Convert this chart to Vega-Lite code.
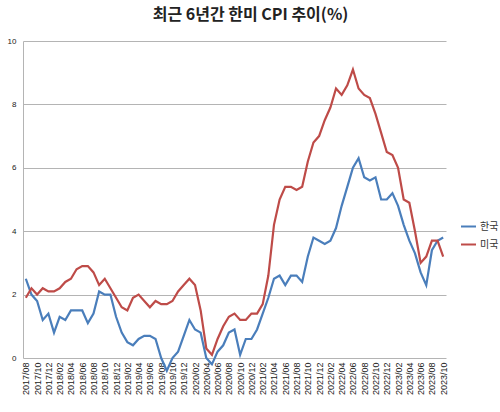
{
 "$schema": "https://vega.github.io/schema/vega-lite/v6.json",
 "width": 423,
 "height": 317,
 "autosize": {"type": "none"},
 "padding": {"left": 23, "top": 41, "right": 54, "bottom": 54},
 "background": "white",
 "title": {"text": "최근 6년간 한미 CPI 추이(%)", "font": "Noto Sans CJK KR", "fontSize": 16, "fontWeight": "bold", "color": "#222222", "anchor": "middle", "dx": 16, "offset": 14},
 "data": {"values": [
  {"m":"2017/08","한국":2.5,"미국":1.9},{"m":"2017/09","한국":2.0,"미국":2.2},{"m":"2017/10","한국":1.8,"미국":2.0},{"m":"2017/11","한국":1.2,"미국":2.2},{"m":"2017/12","한국":1.4,"미국":2.1},
  {"m":"2018/01","한국":0.8,"미국":2.1},{"m":"2018/02","한국":1.3,"미국":2.2},{"m":"2018/03","한국":1.2,"미국":2.4},{"m":"2018/04","한국":1.5,"미국":2.5},{"m":"2018/05","한국":1.5,"미국":2.8},{"m":"2018/06","한국":1.5,"미국":2.9},{"m":"2018/07","한국":1.1,"미국":2.9},{"m":"2018/08","한국":1.4,"미국":2.7},{"m":"2018/09","한국":2.1,"미국":2.3},{"m":"2018/10","한국":2.0,"미국":2.5},{"m":"2018/11","한국":2.0,"미국":2.2},{"m":"2018/12","한국":1.3,"미국":1.9},
  {"m":"2019/01","한국":0.8,"미국":1.6},{"m":"2019/02","한국":0.5,"미국":1.5},{"m":"2019/03","한국":0.4,"미국":1.9},{"m":"2019/04","한국":0.6,"미국":2.0},{"m":"2019/05","한국":0.7,"미국":1.8},{"m":"2019/06","한국":0.7,"미국":1.6},{"m":"2019/07","한국":0.6,"미국":1.8},{"m":"2019/08","한국":0.0,"미국":1.7},{"m":"2019/09","한국":-0.4,"미국":1.7},{"m":"2019/10","한국":0.0,"미국":1.8},{"m":"2019/11","한국":0.2,"미국":2.1},{"m":"2019/12","한국":0.7,"미국":2.3},
  {"m":"2020/01","한국":1.2,"미국":2.5},{"m":"2020/02","한국":0.9,"미국":2.3},{"m":"2020/03","한국":0.8,"미국":1.5},{"m":"2020/04","한국":0.0,"미국":0.3},{"m":"2020/05","한국":-0.2,"미국":0.1},{"m":"2020/06","한국":0.2,"미국":0.6},{"m":"2020/07","한국":0.4,"미국":1.0},{"m":"2020/08","한국":0.8,"미국":1.3},{"m":"2020/09","한국":0.9,"미국":1.4},{"m":"2020/10","한국":0.1,"미국":1.2},{"m":"2020/11","한국":0.6,"미국":1.2},{"m":"2020/12","한국":0.6,"미국":1.4},
  {"m":"2021/01","한국":0.9,"미국":1.4},{"m":"2021/02","한국":1.4,"미국":1.7},{"m":"2021/03","한국":1.9,"미국":2.6},{"m":"2021/04","한국":2.5,"미국":4.2},{"m":"2021/05","한국":2.6,"미국":5.0},{"m":"2021/06","한국":2.3,"미국":5.4},{"m":"2021/07","한국":2.6,"미국":5.4},{"m":"2021/08","한국":2.6,"미국":5.3},{"m":"2021/09","한국":2.4,"미국":5.4},{"m":"2021/10","한국":3.2,"미국":6.2},{"m":"2021/11","한국":3.8,"미국":6.8},{"m":"2021/12","한국":3.7,"미국":7.0},
  {"m":"2022/01","한국":3.6,"미국":7.5},{"m":"2022/02","한국":3.7,"미국":7.9},{"m":"2022/03","한국":4.1,"미국":8.5},{"m":"2022/04","한국":4.8,"미국":8.3},{"m":"2022/05","한국":5.4,"미국":8.6},{"m":"2022/06","한국":6.0,"미국":9.1},{"m":"2022/07","한국":6.3,"미국":8.5},{"m":"2022/08","한국":5.7,"미국":8.3},{"m":"2022/09","한국":5.6,"미국":8.2},{"m":"2022/10","한국":5.7,"미국":7.7},{"m":"2022/11","한국":5.0,"미국":7.1},{"m":"2022/12","한국":5.0,"미국":6.5},
  {"m":"2023/01","한국":5.2,"미국":6.4},{"m":"2023/02","한국":4.8,"미국":6.0},{"m":"2023/03","한국":4.2,"미국":5.0},{"m":"2023/04","한국":3.7,"미국":4.9},{"m":"2023/05","한국":3.3,"미국":4.0},{"m":"2023/06","한국":2.7,"미국":3.0},{"m":"2023/07","한국":2.3,"미국":3.2},{"m":"2023/08","한국":3.4,"미국":3.7},{"m":"2023/09","한국":3.7,"미국":3.7},{"m":"2023/10","한국":3.8,"미국":3.2}
 ]},
 "transform": [{"fold": ["한국", "미국"], "as": ["c", "v"]}],
 "mark": {"type": "line", "strokeWidth": 2.2},
 "encoding": {
  "x": {"field": "m", "type": "ordinal", "sort": null,
   "scale": {"type": "point", "padding": 0.5},
   "axis": {"title": null, "labelAngle": -90, "labelAlign": "right", "labelBaseline": "middle",
    "values": ["2017/08","2017/10","2017/12","2018/02","2018/04","2018/06","2018/08","2018/10","2018/12","2019/02","2019/04","2019/06","2019/08","2019/10","2019/12","2020/02","2020/04","2020/06","2020/08","2020/10","2020/12","2021/02","2021/04","2021/06","2021/08","2021/10","2021/12","2022/02","2022/04","2022/06","2022/08","2022/10","2022/12","2023/02","2023/04","2023/06","2023/08","2023/10"],
    "labelFontSize": 9, "labelFont": "Liberation Sans", "labelColor": "#222222", "domain": false, "ticks": false, "grid": false, "labelPadding": 4, "labelOverlap": false}},
  "y": {"field": "v", "type": "quantitative",
   "scale": {"domain": [0, 10], "nice": false, "zero": false},
   "axis": {"title": null, "values": [0, 2, 4, 6, 8, 10], "grid": true, "gridColor": "#b4b4b4", "gridWidth": 1, "domain": true, "domainColor": "#b4b4b4", "ticks": false, "labelFontSize": 8, "labelFont": "Liberation Sans", "labelColor": "#222222", "labelPadding": 7}},
  "color": {"field": "c", "type": "nominal",
   "scale": {"domain": ["한국", "미국"], "range": ["#4A7EBB", "#BE4B48"]},
   "legend": {"title": null, "orient": "none", "legendX": 437, "legendY": 177, "symbolType": "stroke", "symbolSize": 225, "symbolStrokeWidth": 2, "labelFontSize": 10, "labelFont": "Noto Sans CJK KR", "labelColor": "#333333", "rowPadding": 4, "labelOffset": 3}}
 },
 "config": {"view": {"stroke": null}}
}
